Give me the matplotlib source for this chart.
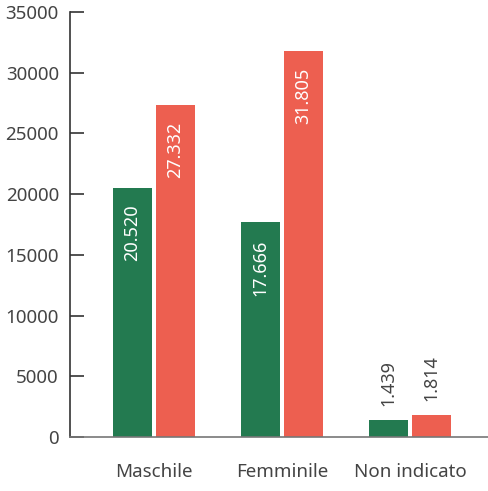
import matplotlib
matplotlib.use("Agg")
import matplotlib.pyplot as plt
import numpy as np

categories = ["Maschile", "Femminile", "Non indicato"]
series_a = [20520, 17666, 1439]   # green
series_b = [27332, 31805, 1814]   # red
labels_a = ["20.520", "17.666", "1.439"]
labels_b = ["27.332", "31.805", "1.814"]
yticks = [0, 5000, 10000, 15000, 20000, 25000, 30000, 35000]

plt.rcParams['font.family'] = ['Noto Sans', 'DejaVu Sans']

fig = plt.figure(figsize=(4.89, 4.91), dpi=100)
ax = fig.add_axes([70/489, 54/491, 419/489, 425/491])

green = "#237a50"
red = "#ed5f50"
x = np.arange(len(categories))
w = 0.305
off = 0.167
ba = ax.bar(x - off, series_a, width=w, color=green)
bb = ax.bar(x + off, series_b, width=w, color=red)

ax.set_ylim(0, 35000)
ax.set_xlim(-0.656, 2.617)
ax.set_yticks(yticks)
ax.set_yticklabels([str(t) for t in yticks])
ax.set_xticks(x)
ax.set_xticklabels(categories)
ax.tick_params(axis='y', direction='in', length=10, width=1.2, color='#333333',
               labelsize=13.5, labelcolor='#444444', pad=8)
ax.tick_params(axis='x', length=0, labelsize=13.5, labelcolor='#444444', pad=19)
for s in ['top', 'right']:
    ax.spines[s].set_visible(False)
ax.spines['left'].set_color('#333333')
ax.spines['left'].set_linewidth(1.2)
ax.spines['bottom'].set_color('#777777')
ax.spines['bottom'].set_linewidth(1.2)

def annotate(bars, labels):
    for rect, lab in zip(bars, labels):
        h = rect.get_height()
        cx = rect.get_x() + rect.get_width() / 2
        if h > 5000:
            ax.annotate(lab, (cx, h), xytext=(0, -12), textcoords='offset points',
                        rotation=90, ha='center', va='top', color='white', fontsize=13)
        else:
            ax.annotate(lab, (cx, h), xytext=(0, 10), textcoords='offset points',
                        rotation=90, ha='center', va='bottom', color='#444444', fontsize=13)

annotate(ba, labels_a)
annotate(bb, labels_b)

fig.savefig("out.png", dpi=100)
